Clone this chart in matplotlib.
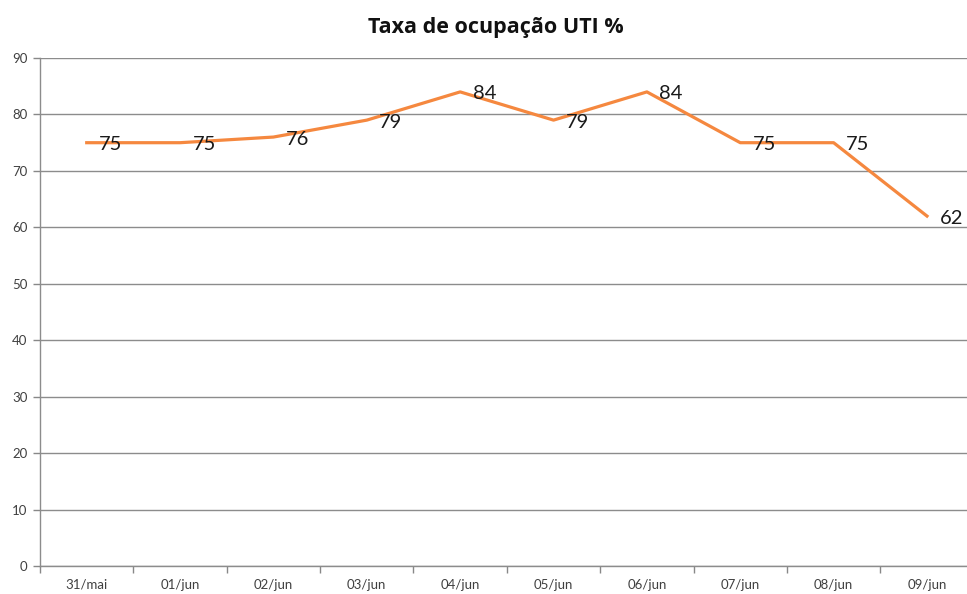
import numpy as np
import matplotlib.pyplot as plt

dias = ['31/mai', '01/jun', '02/jun', '03/jun', '04/jun', '05/jun',
        '06/jun', '07/jun', '08/jun', '09/jun']
ocupacao = [75, 75, 76, 79, 84, 79, 84, 75, 75, 62]
yticks = list(range(0, 100, 10))

plt.rcParams['font.family'] = ['Lato', 'DejaVu Sans']

fig = plt.figure(figsize=(9.67, 5.94), dpi=100)
ax = fig.add_axes([0.0414, 0.0471, 0.9655, 0.8552])

x = np.arange(len(dias))
ax.plot(x, ocupacao, color='#F5883F', linewidth=2.3, zorder=3)
for xi, v in zip(x, ocupacao):
    ax.annotate(str(v), (xi, v), xytext=(9, -1.5), textcoords='offset points',
                ha='left', va='center', fontsize=14.5, color='#1a1a1a', zorder=4)

ax.set_xlim(-0.5, len(dias) - 0.5)
ax.set_ylim(0, 90)
ax.set_yticks(yticks)
ax.set_xticks(x)
ax.set_xticklabels(dias)
ax.set_xticks(np.arange(-0.5, len(dias)), minor=True)
ax.tick_params(axis='x', which='major', length=0, pad=9, labelsize=9.5, labelcolor='#404040')
ax.tick_params(axis='x', which='minor', length=5, color='#888888', width=1)
ax.tick_params(axis='y', length=5, color='#888888', width=1, labelsize=9.5, labelcolor='#404040', pad=4)

ax.grid(axis='y', color='#8c8c8c', linewidth=1)
ax.set_axisbelow(True)
for s in ['top', 'right']:
    ax.spines[s].set_visible(False)
for s in ['left', 'bottom']:
    ax.spines[s].set_color('#8c8c8c')
    ax.spines[s].set_linewidth(1)

fig.suptitle('Taxa de ocupação UTI %', x=0.513, y=0.972, fontsize=15.5, fontweight='bold',
             color='#111111', family=['Open Sans', 'DejaVu Sans'])

fig.savefig('out.png', dpi=100)
